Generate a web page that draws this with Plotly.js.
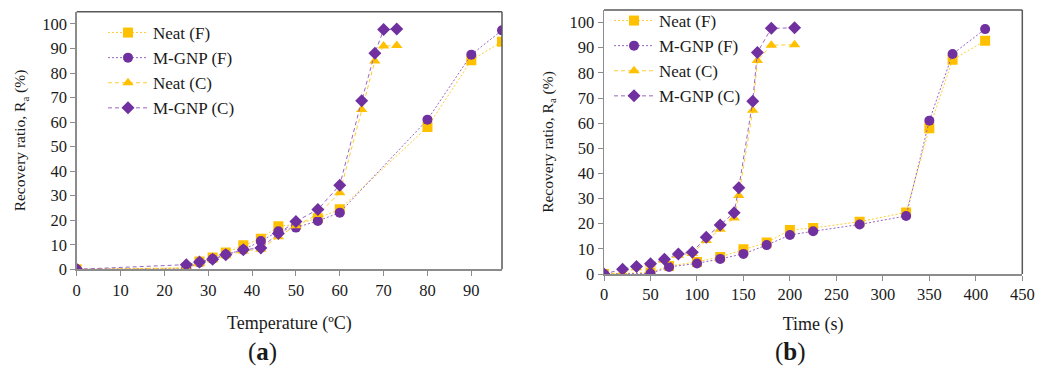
<!DOCTYPE html>
<html>
<head>
<meta charset="utf-8">
<script src="https://cdn.plot.ly/plotly-3.0.1.min.js"></script>
<style>html,body{margin:0;padding:0;background:#fff;}#chart{width:1051px;height:369px;}</style>
</head>
<body>
<div id="chart"></div>
<script>
// ---- data ----
var seriesNames = ['Neat (F)', 'M-GNP (F)', 'Neat (C)', 'M-GNP (C)'];
var tempF = [0, 25, 28, 31, 34, 38, 42, 46, 50, 55, 60, 80, 90, 97];
var timeF = [0, 50, 70, 100, 125, 150, 175, 200, 225, 275, 325, 350, 375, 410];
var neatF = [0, 0.6, 3.2, 4.8, 6.8, 9.8, 12.5, 17.5, 18.3, 20.8, 24.5, 58, 85.2, 92.8];
var mgnpF = [0, 0.2, 2.8, 4.2, 6.0, 8.0, 11.5, 15.5, 17.0, 19.7, 23.1, 61, 87.5, 97.4];
var tempC = [0, 25, 28, 31, 34, 38, 42, 46, 50, 55, 60, 65, 68, 70, 73];
var timeC = [0, 20, 35, 50, 65, 80, 95, 110, 125, 140, 145, 160, 165, 180, 205];
var neatC = [0, 0.5, 2.5, 4.0, 5.5, 7.5, 8.2, 13.3, 17.8, 22.3, 31.2, 65.1, 84.9, 91.0, 91.2];
var mgnpC = [0, 1.9, 3.0, 4.1, 5.9, 8.0, 8.7, 14.6, 19.5, 24.4, 34.3, 68.7, 88.1, 97.7, 97.9];
var xTicksA = [0, 10, 20, 30, 40, 50, 60, 70, 80, 90];
var xTicksB = [0, 50, 100, 150, 200, 250, 300, 350, 400, 450];
var yTicks = [0, 10, 20, 30, 40, 50, 60, 70, 80, 90, 100];

var ORANGE = '#FFC000', PURPLE = '#7030A0';
var ORANGE_L = '#FFCC33', PURPLE_L = '#9966C0';
var FONT = 'Liberation Serif, Times New Roman, serif';

var styles = [
  {color: ORANGE, lc: ORANGE_L, symbol: 'square', size: 10, dash: '2px,2px'},
  {color: PURPLE, lc: PURPLE_L, symbol: 'circle', size: 10, dash: '2px,2px'},
  {color: ORANGE, lc: ORANGE_L, symbol: 'triangle-up', size: 10, dash: '4px,3px'},
  {color: PURPLE, lc: PURPLE_L, symbol: 'diamond', size: 10, dash: '4px,3px'}
];

function tr(x, y, i, xa, ya, leg) {
  var s = styles[i];
  return {
    x: x, y: y, name: seriesNames[i], type: 'scatter', mode: 'lines+markers',
    xaxis: xa, yaxis: ya, legend: leg,
    line: {color: s.lc, width: 1, dash: s.dash},
    marker: {color: s.color, symbol: s.symbol, size: s.size, line: {width: 0}}
  };
}

var traces = [
  tr(tempF, neatF, 0, 'x', 'y', 'legend'),
  tr(tempF, mgnpF, 1, 'x', 'y', 'legend'),
  tr(tempC, neatC, 2, 'x', 'y', 'legend'),
  tr(tempC, mgnpC, 3, 'x', 'y', 'legend'),
  tr(timeF, neatF, 0, 'x2', 'y2', 'legend2'),
  tr(timeF, mgnpF, 1, 'x2', 'y2', 'legend2'),
  tr(timeC, neatC, 2, 'x2', 'y2', 'legend2'),
  tr(timeC, mgnpC, 3, 'x2', 'y2', 'legend2')
];

var W = 1051, H = 369;
function px(a, b) { return [a / W, b / W]; }
function py(top, bottom) { return [1 - bottom / H, 1 - top / H]; }

var axisCommon = {
  showgrid: false, zeroline: false, showline: true, linecolor: '#8c8c8c', linewidth: 1.5,
  ticks: 'outside', ticklen: 5, tickcolor: '#8c8c8c', tickwidth: 1,
  tickfont: {family: FONT, size: 16.5, color: '#1a1a1a'}, automargin: false
};
function ax(extra) { return Object.assign({}, axisCommon, extra); }

var layout = {
  width: W, height: H,
  margin: {l: 0, r: 0, t: 0, b: 0},
  paper_bgcolor: '#fff', plot_bgcolor: '#fff',
  font: {family: FONT, color: '#1a1a1a'},
  xaxis: ax({domain: px(76.7, 502), range: [0, 97], tickvals: xTicksA, anchor: 'y',
    title: {text: 'Temperature (ºC)', font: {family: FONT, size: 18}, standoff: 18}}),
  yaxis: ax({domain: py(11.7, 269.3), range: [0, 105], tickvals: yTicks, anchor: 'x',
    title: {text: 'Recovery ratio, R<sub>a</sub> (%)', font: {family: FONT, size: 15.5}, standoff: 12}}),
  xaxis2: ax({domain: px(604, 1022.3), range: [0, 450], tickvals: xTicksB, anchor: 'y2',
    title: {text: 'Time (s)', font: {family: FONT, size: 18}, standoff: 14}}),
  yaxis2: ax({domain: py(10, 274), range: [0, 105], tickvals: yTicks, anchor: 'x2',
    title: {text: 'Recovery ratio, R<sub>a</sub> (%)', font: {family: FONT, size: 15.5}, standoff: 12}}),
  legend: {x: 103 / W, y: 1 - 15 / H, xanchor: 'left', yanchor: 'top', bgcolor: 'rgba(0,0,0,0)',
    font: {family: FONT, size: 17, color: '#1a1a1a'}, itemwidth: 40, tracegroupgap: 0},
  legend2: {x: 609 / W, y: 1 - 3 / H, xanchor: 'left', yanchor: 'top', bgcolor: 'rgba(0,0,0,0)',
    font: {family: FONT, size: 17, color: '#1a1a1a'}, itemwidth: 40, tracegroupgap: 0},
  shapes: [
    {type: 'line', xref: 'x domain', yref: 'y domain', x0: 0, x1: 1, y0: 1, y1: 1, line: {color: '#595959', width: 1.5}},
    {type: 'line', xref: 'x domain', yref: 'y domain', x0: 1, x1: 1, y0: 0, y1: 1, line: {color: '#595959', width: 1.5}},
    {type: 'line', xref: 'x2 domain', yref: 'y2 domain', x0: 0, x1: 1, y0: 1, y1: 1, line: {color: '#595959', width: 1.5}},
    {type: 'line', xref: 'x2 domain', yref: 'y2 domain', x0: 1, x1: 1, y0: 0, y1: 1, line: {color: '#595959', width: 1.5}}
  ],
  annotations: [
    {text: '(<b>a</b>)', xref: 'paper', yref: 'paper', x: 262 / W, y: 1 - 352 / H, showarrow: false,
      xanchor: 'center', yanchor: 'middle', font: {family: FONT, size: 25, color: '#1a1a1a'}},
    {text: '(<b>b</b>)', xref: 'paper', yref: 'paper', x: 790 / W, y: 1 - 352 / H, showarrow: false,
      xanchor: 'center', yanchor: 'middle', font: {family: FONT, size: 25, color: '#1a1a1a'}}
  ]
};

Plotly.newPlot('chart', traces, layout, {displayModeBar: false, staticPlot: true});
</script>
</body>
</html>
